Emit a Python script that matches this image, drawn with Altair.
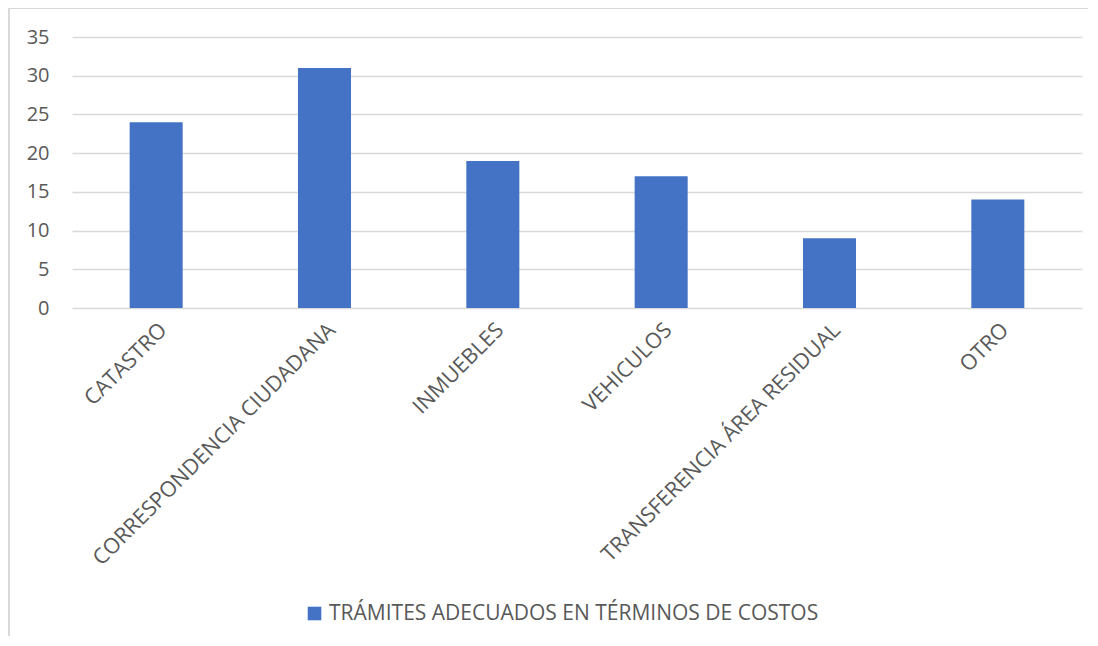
import altair as alt
import pandas as pd

categories = ["CATASTRO", "CORRESPONDENCIA CIUDADANA", "INMUEBLES", "VEHICULOS",
              "TRANSFERENCIA ÁREA RESIDUAL", "OTRO"]
values = [24, 31, 19, 17, 9, 14]
series_name = "TRÁMITES ADECUADOS EN TÉRMINOS DE COSTOS"
y_ticks = [0, 5, 10, 15, 20, 25, 30, 35]

df = pd.DataFrame({"cat": categories, "val": values, "serie": [series_name] * len(categories)})

FONT = "Open Sans"
TXT = "#595959"
GRID = "#D9D9D9"

bars = alt.Chart(df).mark_bar(color="#4472C4").encode(
    x=alt.X("cat:N", sort=categories, title=None,
            scale=alt.Scale(paddingInner=0.685, paddingOuter=0.3425),
            axis=alt.Axis(labelAngle=-45, labelFont=FONT, labelFontSize=21.5, labelColor=TXT,
                          ticks=False, domain=False, labelPadding=11, labelLimit=500)),
    y=alt.Y("val:Q", title=None, scale=alt.Scale(domain=[0, 35], nice=False),
            axis=alt.Axis(values=y_ticks, labelFont=FONT, labelFontSize=20, labelColor=TXT,
                          ticks=False, domain=False, gridColor=GRID, gridWidth=1.3,
                          labelPadding=23)),
    color=alt.Color("serie:N", scale=alt.Scale(range=["#4472C4"]),
                    legend=alt.Legend(title=None, orient="none", legendX=232, legendY=566,
                                      symbolType="square", symbolSize=185, labelOffset=4,
                                      labelFont=FONT, labelFontSize=21, labelColor=TXT,
                                      symbolStrokeWidth=0, labelLimit=700)),
)

frame = alt.Chart(df).mark_rect(fill=None, stroke=GRID, strokeWidth=1.5).encode(
    x=alt.value(-63), x2=alt.value(1100), y=alt.value(-29), y2=alt.value(700)
)

chart = alt.layer(frame, bars).properties(
    width=1010, height=271,
    autosize=alt.AutoSizeParams(type="none"),
    padding={"left": 64, "top": 29, "right": 6, "bottom": 328},
).configure_view(stroke=None)

chart.save("out.html", embed_options={"renderer": "svg", "actions": False})
